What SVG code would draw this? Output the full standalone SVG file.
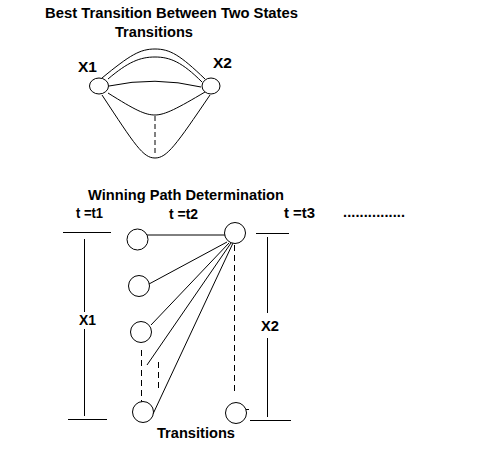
<svg xmlns="http://www.w3.org/2000/svg" width="499" height="463" viewBox="0 0 499 463">
<style>
.t{font-family:"Liberation Sans",Arial,sans-serif;font-weight:bold;font-size:14.5px;fill:#000}
.n{fill:#fff;stroke:#000;stroke-width:1}
.c{fill:none;stroke:#000;stroke-width:1}
.d{fill:none;stroke:#000;stroke-width:1;stroke-dasharray:6,4}
.d2{fill:none;stroke:#000;stroke-width:1;stroke-dasharray:5,3}
</style>
<rect width="499" height="463" fill="#fff"/>
<text class="t" x="45" y="18" textLength="253" lengthAdjust="spacingAndGlyphs">Best Transition Between Two States</text>
<text class="t" x="115" y="37" textLength="78" lengthAdjust="spacingAndGlyphs">Transitions</text>

<g id="connectors">
<path class="c" d="M102,78 C130,55 140,49 155,49 C170,49 180,55 205,79"/>
<path class="c" d="M108,79 C128,62 140,57 155,57 C170,57 182,62 202,82"/>
<path class="c" d="M109,86 Q155,76 201,87"/>
<path class="c" d="M108,93 C135,110 145,115 155,115 C165,115 178,108 205,92"/>
<path class="c" d="M102,95 C135,145 143,158 155,158 C167,158 176,145 210,95"/>
<line class="d2" x1="155" y1="116" x2="155" y2="154"/>

<line class="c" x1="147" y1="235" x2="225" y2="235"/>
<line class="c" x1="227" y1="242" x2="149" y2="284"/>
<line class="c" x1="229" y1="243" x2="151" y2="325"/>
<line class="c" x1="231" y1="243" x2="147" y2="365"/>
<line class="c" x1="233" y1="243" x2="153" y2="414"/>
<line class="d" x1="234.5" y1="245" x2="234.5" y2="394"/>
<line class="d" x1="141.5" y1="350" x2="141.5" y2="402"/>
<line class="d" x1="158.5" y1="362" x2="158.5" y2="388"/>
</g>

<g id="X1-top"><ellipse class="n" cx="99" cy="86" rx="9.5" ry="8"/><text class="t" x="78" y="72" textLength="19" lengthAdjust="spacingAndGlyphs">X1</text></g>
<g id="X2-top"><ellipse class="n" cx="211" cy="86" rx="9" ry="8"/><text class="t" x="213" y="68" textLength="19" lengthAdjust="spacingAndGlyphs">X2</text></g>

<text class="t" x="88" y="200" textLength="196" lengthAdjust="spacingAndGlyphs">Winning Path Determination</text>
<text class="t" x="76" y="218" textLength="27" lengthAdjust="spacingAndGlyphs">t =t1</text>
<text class="t" x="169" y="219" textLength="29" lengthAdjust="spacingAndGlyphs">t =t2</text>
<text class="t" x="284" y="218" textLength="31" lengthAdjust="spacingAndGlyphs">t  =t3</text>
<text class="t" x="343" y="217" textLength="62" lengthAdjust="spacing">...............</text>

<g id="axis-X1">
<line class="c" x1="63" y1="232.5" x2="111" y2="232.5"/>
<line class="c" x1="84.5" y1="239" x2="84.5" y2="312"/>
<line class="c" x1="84.5" y1="329" x2="84.5" y2="416"/>
<line class="c" x1="68" y1="419.5" x2="107" y2="419.5"/>
<text class="t" x="79" y="325" textLength="17" lengthAdjust="spacingAndGlyphs">X1</text>
</g>
<g id="axis-X2">
<line class="c" x1="256" y1="233.5" x2="289" y2="233.5"/>
<line class="c" x1="267.5" y1="237" x2="267.5" y2="313"/>
<line class="c" x1="267.5" y1="338" x2="267.5" y2="417"/>
<line class="c" x1="250" y1="420.5" x2="291" y2="420.5"/>
<text class="t" x="261" y="331" textLength="18" lengthAdjust="spacingAndGlyphs">X2</text>
</g>

<g id="s1"><circle class="n" cx="137.5" cy="239.5" r="10.5"/></g>
<g id="s2"><circle class="n" cx="139" cy="286" r="10.5"/></g>
<g id="s3"><circle class="n" cx="141" cy="332" r="10.5"/></g>
<g id="s4"><circle class="n" cx="143" cy="412" r="10.5"/></g>
<g id="r1"><circle class="n" cx="235" cy="233" r="10.5"/></g>
<g id="r2"><circle class="n" cx="236" cy="413" r="10.5"/><line class="c" x1="246" y1="409.5" x2="249" y2="409.5"/></g>

<text class="t" x="157" y="438" textLength="78" lengthAdjust="spacingAndGlyphs">Transitions</text>
</svg>
